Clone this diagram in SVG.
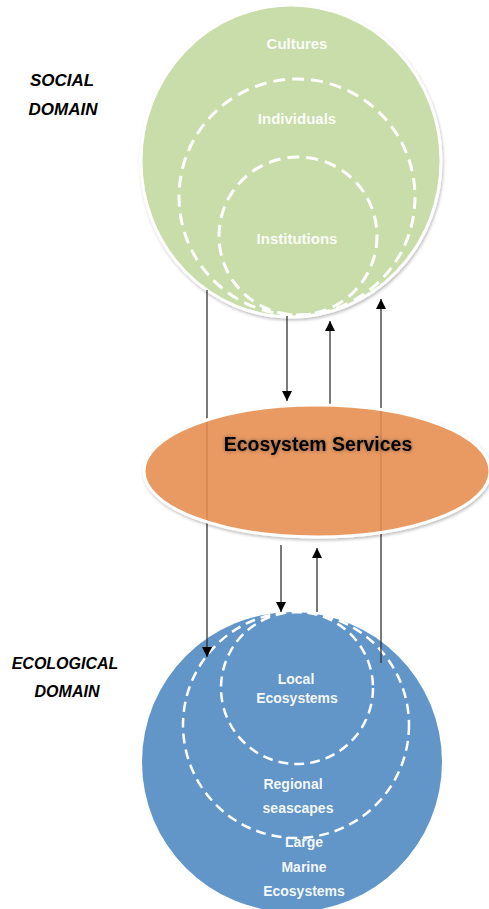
<svg xmlns="http://www.w3.org/2000/svg" width="489" height="909" viewBox="0 0 489 909">
  <defs>
    <marker id="arrow" viewBox="0 0 10 10" refX="10" refY="5" markerWidth="10" markerHeight="11" markerUnits="userSpaceOnUse" orient="auto">
      <path d="M0,0 L10,5 L0,10 Z" fill="#000"/>
    </marker>
    <filter id="soft" x="-10%" y="-10%" width="120%" height="120%">
      <feDropShadow dx="1" dy="2" stdDeviation="1.5" flood-color="#000" flood-opacity="0.25"/>
    </filter>
    <filter id="glow" x="-10%" y="-40%" width="120%" height="180%">
      <feGaussianBlur in="SourceAlpha" stdDeviation="2"/>
      <feComponentTransfer><feFuncA type="linear" slope="0.45"/></feComponentTransfer>
      <feMerge><feMergeNode/><feMergeNode in="SourceGraphic"/></feMerge>
    </filter>
  </defs>
  <style>
    .domain { font-family: "Liberation Sans", Arial, sans-serif; font-weight: bold; font-style: italic; fill: #000; text-anchor: middle; }
    .inner { font-family: "Liberation Sans", Arial, sans-serif; font-weight: bold; fill: #ffffff; fill-opacity: 0.95; text-anchor: middle; }
    .dash-top { fill: none; stroke: #fff; stroke-width: 3; stroke-dasharray: 12 7; }
    .dash-bot { fill: none; stroke: #fff; stroke-width: 2.5; stroke-dasharray: 10 6; }
    .link { stroke: #333; stroke-width: 1.3; fill: none; }
  </style>

  <!-- side labels -->
  <g id="social-label">
    <text class="domain" x="62" y="86" font-size="17">SOCIAL</text>
    <text class="domain" x="63" y="115" font-size="17">DOMAIN</text>
  </g>
  <g id="ecological-label">
    <text class="domain" x="65" y="669" font-size="16">ECOLOGICAL</text>
    <text class="domain" x="67" y="697" font-size="16">DOMAIN</text>
  </g>

  <!-- social domain: nested circles -->
  <g id="social">
    <ellipse cx="291" cy="161" rx="150" ry="156" fill="#C8DDA9" stroke="#fff" stroke-width="3" filter="url(#soft)"/>
    <circle class="dash-top" cx="297" cy="197" r="118"/>
    <circle class="dash-top" cx="298" cy="236" r="79"/>
    <text class="inner" x="297" y="49" font-size="15">Cultures</text>
    <text class="inner" x="297" y="124" font-size="15">Individuals</text>
    <text class="inner" x="297" y="244" font-size="15">Institutions</text>
  </g>

  <!-- ecological domain: nested circles -->
  <g id="ecological">
    <circle cx="292" cy="762" r="150" fill="#6296C8"/>
    <circle class="dash-bot" cx="296" cy="725" r="113"/>
    <circle class="dash-bot" cx="297" cy="688" r="76"/>
    <text class="inner" x="296" y="684" font-size="14">Local</text>
    <text class="inner" x="297" y="703" font-size="14">Ecosystems</text>
    <text class="inner" x="293" y="789" font-size="14">Regional</text>
    <text class="inner" x="298" y="813" font-size="14">seascapes</text>
    <text class="inner" x="304" y="847" font-size="14">Large</text>
    <text class="inner" x="304" y="872" font-size="14">Marine</text>
    <text class="inner" x="304" y="896" font-size="14">Ecosystems</text>
  </g>

  <!-- flows between domains -->
  <g id="connectors">
    <line class="link" x1="207" y1="290" x2="207" y2="657" marker-end="url(#arrow)"/>
    <line class="link" x1="287" y1="316" x2="287" y2="401" marker-end="url(#arrow)"/>
    <line class="link" x1="330" y1="405" x2="330" y2="321" marker-end="url(#arrow)"/>
    <line class="link" x1="381" y1="663" x2="381" y2="299" marker-end="url(#arrow)"/>
    <line class="link" x1="281" y1="545" x2="281" y2="612" marker-end="url(#arrow)"/>
    <line class="link" x1="317" y1="612" x2="317" y2="548" marker-end="url(#arrow)"/>
  </g>

  <!-- ecosystem services -->
  <g id="services">
    <ellipse cx="317" cy="471" rx="173" ry="66" fill="#EA8F50" fill-opacity="0.85" stroke="#fff" stroke-width="3" filter="url(#soft)"/>
    <text x="318" y="451" font-family="Liberation Sans, Arial, sans-serif" font-weight="bold" font-size="19.5" text-anchor="middle" fill="#000" filter="url(#glow)">Ecosystem Services</text>
  </g>
</svg>
